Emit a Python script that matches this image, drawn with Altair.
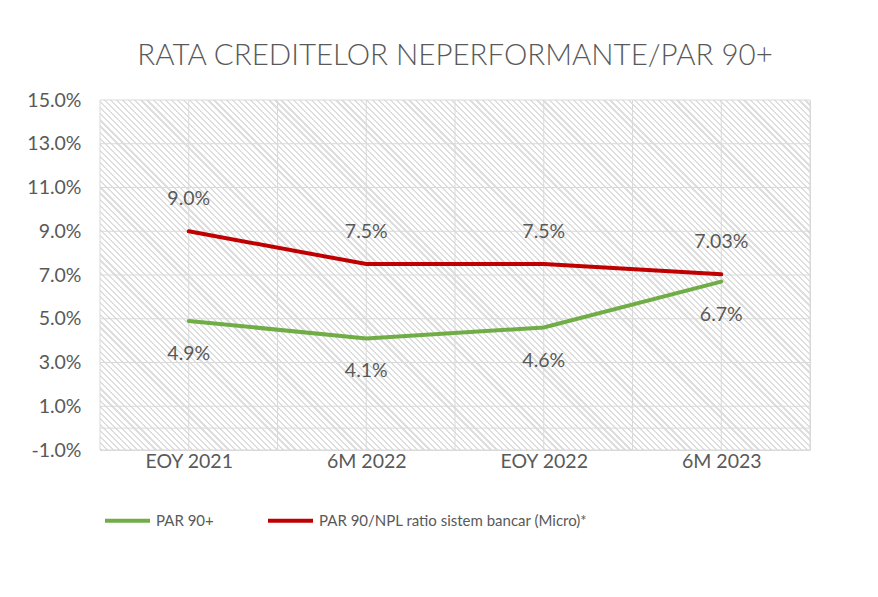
import json
import math
import altair as alt
import pandas as pd

# ---------------- data ----------------
categories = ["EOY 2021", "6M 2022", "EOY 2022", "6M 2023"]
par90 = [4.9, 4.1, 4.6, 6.7]
par90_labels = ["4.9%", "4.1%", "4.6%", "6.7%"]
npl = [9.0, 7.5, 7.5, 7.03]
npl_labels = ["9.0%", "7.5%", "7.5%", "7.03%"]
series_names = ["PAR 90+", "PAR 90/NPL ratio sistem bancar (Micro)*"]
series_colors = ["#70AD47", "#C00000"]
y_ticks = [-1, 1, 3, 5, 7, 9, 11, 13, 15]
y_domain = [-1, 15]
title_text = "RATA CREDITELOR NEPERFORMANTE/PAR 90+"

rows = []
for i, c in enumerate(categories):
    rows.append(dict(idx=i, cat=c, series=series_names[0], value=par90[i], label=par90_labels[i]))
for i, c in enumerate(categories):
    rows.append(dict(idx=i, cat=c, series=series_names[1], value=npl[i], label=npl_labels[i]))
df = pd.DataFrame(rows)
zero_df = pd.DataFrame({"v": [0]})
x_domain = [-0.5, len(categories) - 0.5]
xvals = [i / 2 - 0.5 for i in range(2 * len(categories) + 1)]
bg_df = pd.DataFrame({"x0": [x_domain[0]], "x1": [x_domain[1]],
                      "y0": [y_domain[0]], "y1": [y_domain[1]]})
xgrid_df = pd.DataFrame({"gx": xvals})
ygrid_df = pd.DataFrame({"gy": y_ticks})

# ---------------- style ----------------
W, H = 710, 350
FONT = "Lato"
TXT = "#595959"
GRID = "#d9d9d9"
FS = 19.5

# diagonal hatch as a striped linear gradient (45 deg, "\" stripes)
r = H / W
s = (1 + r) / (1 + r * r)
period = 4.3
L = (W + H) / math.sqrt(2)
N = int(round(L / period))
stops = []
HC = "#dedede"
for k in range(N):
    t0 = k / N
    t1 = (k + 0.36) / N
    t2 = (k + 1) / N
    stops += [(t0, HC), (t1, HC), (t1, "#ffffff"), (t2, "#ffffff")]
hatch = alt.LinearGradient(
    gradient="linear",
    x1=0, y1=1,
    x2=s, y2=1 - s * r,
    stops=[alt.GradientStop(offset=o, color=c) for o, c in stops],
)

label_expr = ("datum.value % 1 === 0 ? " + json.dumps(categories) + "[datum.value] : ''")

x_scale = alt.Scale(domain=x_domain, nice=False, zero=False)
y_scale = alt.Scale(domain=y_domain, nice=False, zero=False)

x_axis = alt.Axis(values=xvals, labelExpr=label_expr, title=None, ticks=False,
                  domain=False, grid=False, labelOverlap=False,
                  labelFlush=False, labelPadding=2)
y_axis = alt.Axis(values=y_ticks,
                  labelExpr="(datum.value < 0 ? '-' : '') + format(abs(datum.value), '.1f') + '%'",
                  title=None, ticks=False, domain=False, grid=False,
                  labelPadding=19)

background = alt.Chart(bg_df).mark_rect(fill=hatch).encode(
    x=alt.X("x0:Q", scale=x_scale, axis=x_axis),
    x2="x1:Q",
    y=alt.Y("y0:Q", scale=y_scale, axis=y_axis),
    y2="y1:Q",
)

xgrid = alt.Chart(xgrid_df).mark_rule(color=GRID, strokeWidth=1).encode(
    x=alt.X("gx:Q", scale=x_scale)
)
ygrid = alt.Chart(ygrid_df).mark_rule(color=GRID, strokeWidth=1).encode(
    y=alt.Y("gy:Q", scale=y_scale)
)
zero_rule = alt.Chart(zero_df).mark_rule(color=GRID, strokeWidth=1).encode(
    y=alt.Y("v:Q", scale=y_scale)
)

base = alt.Chart(df)

lines = base.mark_line(strokeWidth=4, strokeCap="round").encode(
    x=alt.X("idx:Q", scale=x_scale),
    y=alt.Y("value:Q", scale=y_scale),
    color=alt.Color(
        "series:N",
        scale=alt.Scale(domain=series_names, range=series_colors),
        sort=series_names,
        legend=alt.Legend(
            title=None, orient="none", direction="horizontal",
            legendX=3, legendY=396,
            symbolType="stroke", symbolSize=2025, symbolStrokeWidth=4,
            labelFont=FONT, labelFontSize=15, labelColor=TXT, labelLimit=0,
            columnPadding=46, labelOffset=4,
        ),
    ),
)

labels_green = base.transform_filter(alt.datum.series == series_names[0]).mark_text(
    dy=33, font=FONT, fontSize=FS, color=TXT
).encode(x="idx:Q", y="value:Q", text="label:N")

labels_red = base.transform_filter(alt.datum.series == series_names[1]).mark_text(
    dy=-32, font=FONT, fontSize=FS, color=TXT
).encode(x="idx:Q", y="value:Q", text="label:N")

chart = (
    alt.layer(background, xgrid, ygrid, zero_rule, lines, labels_green, labels_red)
    .properties(
        width=W, height=H,
        title=alt.TitleParams(title_text, font=FONT, fontSize=29.5, fontWeight=300,
                              color=TXT, anchor="middle", frame="group",
                              baseline="alphabetic", offset=32, dy=36),
        autosize=alt.AutoSizeParams(type="none"),
        padding={"left": 92, "top": 92, "right": 50, "bottom": 130},
    )
    .configure_view(stroke=GRID, strokeWidth=1)
    .configure_axis(labelFont=FONT, labelFontSize=FS, labelColor=TXT)
)

chart.save("out.html", embed_options={"renderer": "svg", "actions": False})
